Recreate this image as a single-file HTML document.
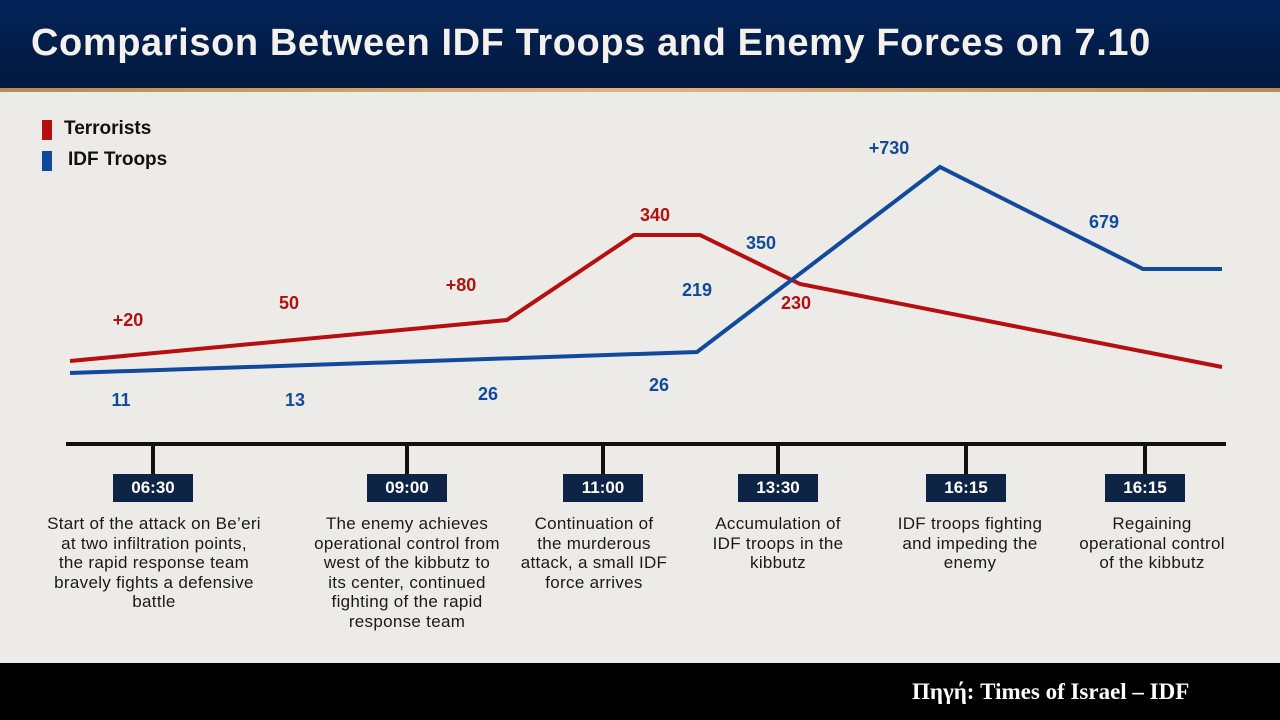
<!DOCTYPE html>
<html><head><meta charset="utf-8"><style>
body{margin:0;width:1280px;height:720px;overflow:hidden;background:#ecebe8;font-family:"Liberation Sans","DejaVu Sans",sans-serif;position:relative}
.hdr{position:absolute;left:0;top:0;width:1280px;height:88px;background:linear-gradient(#03245a,#021c48 60%,#031a3e)}
.gold{position:absolute;left:0;top:88px;width:1280px;height:4px;background:linear-gradient(90deg,#b88a55,#e0b47a,#b88a55)}
.title{position:absolute;left:31px;top:22px;color:#f4f1ec;font-weight:bold;font-size:38px;letter-spacing:0.6px;white-space:nowrap}
.foot{position:absolute;left:0;top:663px;width:1280px;height:57px;background:#000}
.src{position:absolute;left:912px;top:679px;color:#fff;font-family:"Liberation Serif",serif;font-weight:bold;font-size:23px;white-space:nowrap}
.box{position:absolute;top:474px;height:28px;width:80px;background:#0d2447;color:#fff;font-weight:bold;font-size:17px;text-align:center;line-height:28px}
.desc{position:absolute;top:514px;width:260px;text-align:center;font-size:17px;letter-spacing:0.3px;line-height:19.5px;color:#1a1a1a;white-space:nowrap}
.leg{position:absolute;font-weight:bold;font-size:19px;color:#111}
</style></head><body>
<div class="hdr"></div><div class="gold"></div>
<div class="title">Comparison Between IDF Troops and Enemy Forces on 7.10</div>
<div style="position:absolute;left:42px;top:120px;width:10px;height:20px;background:#b50f0f"></div>
<div class="leg" style="left:64px;top:118px">Terrorists</div>
<div style="position:absolute;left:42px;top:151px;width:10px;height:20px;background:#114a9c"></div>
<div class="leg" style="left:68px;top:149px">IDF Troops</div>
<svg width="1280" height="720" style="position:absolute;left:0;top:0">
<polyline points="70,361 507,320 634,235 700,235 800,284 1222,367" fill="none" stroke="#b50f0f" stroke-width="4"/>
<polyline points="70,373 697,352 940,167 1143,269 1222,269" fill="none" stroke="#114a9c" stroke-width="4"/>
<line x1="66" y1="444" x2="1226" y2="444" stroke="#111" stroke-width="4"/>
<g stroke="#111" stroke-width="4">
<line x1="153" y1="444" x2="153" y2="474"/><line x1="407" y1="444" x2="407" y2="474"/><line x1="603" y1="444" x2="603" y2="474"/><line x1="778" y1="444" x2="778" y2="474"/><line x1="966" y1="444" x2="966" y2="474"/><line x1="1145" y1="444" x2="1145" y2="474"/></g>
<g font-family="Liberation Sans,sans-serif" font-weight="bold" font-size="18" text-anchor="middle">
<g fill="#b50f0f"><text x="128" y="326">+20</text><text x="289" y="309">50</text><text x="461" y="291">+80</text><text x="655" y="221">340</text><text x="796" y="309">230</text></g>
<g fill="#114a9c"><text x="121" y="406">11</text><text x="295" y="406">13</text><text x="488" y="400">26</text><text x="659" y="391">26</text><text x="697" y="296">219</text><text x="761" y="249">350</text><text x="889" y="154">+730</text><text x="1104" y="228">679</text></g>
</g></svg>
<div class="box" style="left:113px">06:30</div>
<div class="box" style="left:367px">09:00</div>
<div class="box" style="left:563px">11:00</div>
<div class="box" style="left:738px">13:30</div>
<div class="box" style="left:926px">16:15</div>
<div class="box" style="left:1105px">16:15</div>
<div class="desc" style="left:24px">Start of the attack on Be’eri<br>at two infiltration points,<br>the rapid response team<br>bravely fights a defensive<br>battle</div>
<div class="desc" style="left:277px">The enemy achieves<br>operational control from<br>west of the kibbutz to<br>its center, continued<br>fighting of the rapid<br>response team</div>
<div class="desc" style="left:464px">Continuation of<br>the murderous<br>attack, a small IDF<br>force arrives</div>
<div class="desc" style="left:648px">Accumulation of<br>IDF troops in the<br>kibbutz</div>
<div class="desc" style="left:840px">IDF troops fighting<br>and impeding the<br>enemy</div>
<div class="desc" style="left:1022px">Regaining<br>operational control<br>of the kibbutz</div>
<div class="foot"></div>
<div class="src">Πηγή: Times of Israel – IDF</div>
</body></html>
